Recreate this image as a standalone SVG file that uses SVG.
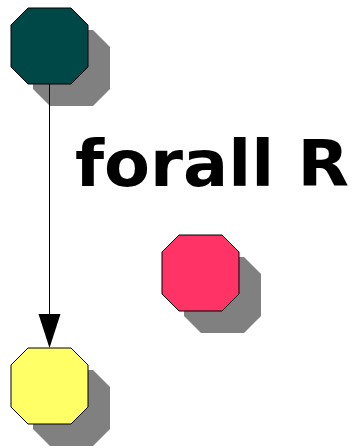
<svg xmlns="http://www.w3.org/2000/svg" width="352" height="448" viewBox="0 0 352 448">
  <defs>
    <style>
      .shadow { fill: #808080; stroke: none; }
      .node { stroke: #000000; stroke-width: 1; }
      .edge { stroke: #000000; stroke-width: 1; fill: none; }
      .label { font-family: "Comic Sans MS", "DejaVu Sans", sans-serif; font-weight: bold; font-size: 64px; fill: #000000; }
    </style>
    <!-- octagon, 77 x 76, origin at top-left of its bounding box -->
    <polygon id="oct" points="17,0 60,0 77,17 77,59 60,76 17,76 0,59 0,17"/>
  </defs>

  <rect width="352" height="448" fill="#ffffff"/>

  <g id="node-top">
    <use href="#oct" class="shadow" x="33" y="30"/>
    <use href="#oct" class="node" x="11" y="8" fill="#004848"/>
  </g>

  <g id="node-red">
    <use href="#oct" class="shadow" x="184" y="257"/>
    <use href="#oct" class="node" x="162" y="235" fill="#FF3366"/>
  </g>

  <g id="node-yellow">
    <use href="#oct" class="shadow" x="33" y="370"/>
    <use href="#oct" class="node" x="11" y="348" fill="#FFFF66"/>
  </g>

  <g id="connectors">
    <line class="edge" x1="49.5" y1="84" x2="49.5" y2="314"/>
    <polygon points="38.5,314 60.5,314 49.5,348" fill="#000000"/>
  </g>

  <g id="title">
    <text class="label" x="75" y="186" textLength="274" lengthAdjust="spacingAndGlyphs">forall R</text>
  </g>
</svg>
